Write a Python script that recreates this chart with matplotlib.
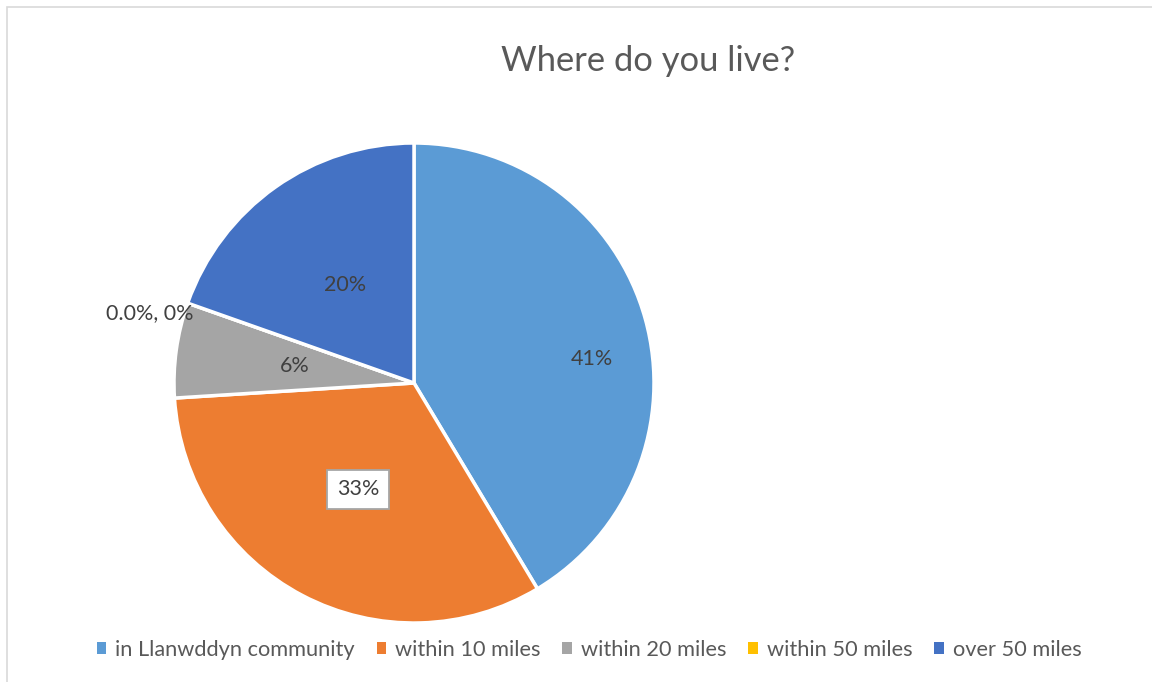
import numpy as np
import matplotlib.pyplot as plt
from matplotlib.patches import Patch, Rectangle

# Odpowiedzi ankiety: udział procentowy każdej kategorii
categories = ['in Llanwddyn community', 'within 10 miles', 'within 20 miles',
              'within 50 miles', 'over 50 miles']
shares = [0.414, 0.326, 0.064, 0.0, 0.196]
colors = ['#5B9BD5', '#ED7D31', '#A5A5A5', '#FFC000', '#4472C4']

plt.rcParams['font.family'] = ['Lato', 'DejaVu Sans']

W, H = 1152, 682
fig = plt.figure(figsize=(W / 100, H / 100), dpi=100)

# Ramka wykresu (jasnoszara, wychodzi poza prawą i dolną krawędź)
fig.patches.append(Rectangle((7 / W, -0.1), 1.2, 1 - 7 / H + 0.1,
                             transform=fig.transFigure, fill=False,
                             edgecolor='#D9D9D9', linewidth=1.2))

cx, cy, r = 414, 383, 240
ax = fig.add_axes([(cx - r) / W, (H - cy - r) / H, 2 * r / W, 2 * r / H])
wedges, _ = ax.pie(shares, colors=colors, startangle=90, counterclock=False,
                   radius=1, wedgeprops=dict(edgecolor='white', linewidth=2.5))
ax.set_xlim(-1, 1)
ax.set_ylim(-1, 1)
ax.set_aspect('equal')
ax.axis('off')

# Etykiety danych
for i, (w, v) in enumerate(zip(wedges, shares)):
    mid = np.deg2rad((w.theta1 + w.theta2) / 2)
    if v == 0:
        x, y = 0.975 * np.cos(mid), 0.975 * np.sin(mid)
        ax.text(x, y - 0.035, f'{v * 100:.1f}%, {v * 100:.0f}%', ha='right',
                va='center', fontsize=15.5, color='#404040')
        continue
    d = 0.5
    x, y = d * np.cos(mid), d * np.sin(mid)
    if i == 0:
        x, y = 0.74, 0.1
    box = None
    if i == 1:
        box = dict(boxstyle='square,pad=0.45', facecolor='white',
                   edgecolor='#A6A6A6', linewidth=1.3)
    ax.text(x, y, f'{v * 100:.0f}%', ha='center', va='center', fontsize=15.5,
            color='#404040', bbox=box)

fig.text(648 / W, 1 - 61 / H, 'Where do you live?', ha='center', va='center',
         fontsize=24.8, color='#595959')

handles = [Patch(facecolor=c, edgecolor='none') for c in colors]
fig.legend(handles, categories, loc='center', ncol=5, frameon=False,
           bbox_to_anchor=(589 / W, 1 - 650 / H), fontsize=15.7,
           labelcolor='#595959', handlelength=0.45, handleheight=0.45,
           handletextpad=0.4, columnspacing=1.0)

fig.savefig('out.png', dpi=100)
